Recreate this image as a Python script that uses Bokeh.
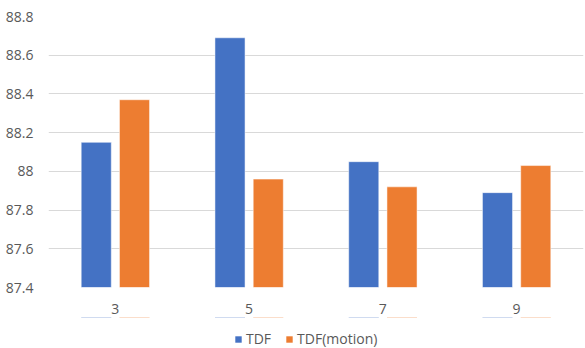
from bokeh.plotting import figure
from bokeh.layouts import column
from bokeh.models import ColumnDataSource, FactorRange, FixedTicker, Legend, LegendItem, Range1d
from bokeh.transform import dodge
from bokeh.embed import file_html
from bokeh.resources import INLINE

# Data
categories = ["3", "5", "7", "9"]
tdf = [88.15, 88.69, 88.05, 87.89]
tdf_motion = [88.37, 87.96, 87.92, 88.03]
y_ticks = [87.4, 87.6, 87.8, 88.0, 88.2, 88.4, 88.6, 88.8]
y_tick_labels = ["87.4", "87.6", "87.8", "88", "88.2", "88.4", "88.6", "88.8"]
series_names = ["TDF", "TDF(motion)"]

BASE = 87.4
BLUE = "#4472C4"
ORANGE = "#ED7D31"
TEXT = "#595959"
GRID = "#d9d9d9"
FONT = "Open Sans"

source = ColumnDataSource(dict(cat=categories, tdf=tdf, motion=tdf_motion))
x_range = FactorRange(*categories, range_padding=0)

# Main bar chart
p = figure(
    width=585, height=317,
    x_range=x_range,
    y_range=(87.4, 88.8),
    output_backend="svg", toolbar_location=None,
    min_border_left=48, min_border_right=2,
    min_border_top=16, min_border_bottom=30,
)
p.outline_line_color = None
p.background_fill_color = "white"
p.border_fill_color = "white"

bar_w = 0.225
p.vbar(x=dodge("cat", -0.143, range=x_range), top="tdf", bottom=BASE, width=bar_w,
       source=source, fill_color=BLUE, line_color="white", line_alpha=0.5, line_width=1)
p.vbar(x=dodge("cat", 0.143, range=x_range), top="motion", bottom=BASE, width=bar_w,
       source=source, fill_color=ORANGE, line_color="white", line_alpha=0.5, line_width=1)

p.yaxis.ticker = FixedTicker(ticks=y_ticks)
p.yaxis.major_label_overrides = dict(zip(y_ticks, y_tick_labels))
for ax in (p.xaxis, p.yaxis):
    ax.axis_line_color = None
    ax.major_tick_line_color = None
    ax.minor_tick_line_color = None
    ax.major_label_text_color = TEXT
    ax.major_label_text_font = FONT
    ax.major_label_text_font_size = "14px"
p.yaxis.major_label_standoff = 9
p.xaxis.major_label_standoff = 10

p.xgrid.grid_line_color = None
p.ygrid.grid_line_color = GRID
p.ygrid.grid_line_width = 1

# Legend strip under the chart; its swatch renderers sit outside the strip's
# visible y range so only the legend itself shows.
leg_fig = figure(
    width=585, height=31,
    x_range=x_range, y_range=Range1d(0, 1),
    x_axis_type=None, y_axis_type=None,
    output_backend="svg", toolbar_location=None,
    min_border=0,
)
leg_fig.outline_line_color = None
leg_fig.grid.visible = False
l1 = leg_fig.vbar(x=dodge("cat", -0.143, range=x_range), top="tdf", bottom=BASE,
                  width=bar_w, source=source, fill_color=BLUE, line_color=None)
l2 = leg_fig.vbar(x=dodge("cat", 0.143, range=x_range), top="motion", bottom=BASE,
                  width=bar_w, source=source, fill_color=ORANGE, line_color=None)

legend = Legend(
    items=[LegendItem(label=series_names[0], renderers=[l1]),
           LegendItem(label=series_names[1], renderers=[l2])],
    orientation="horizontal",
    location=(186, 0),
    border_line_color=None,
    background_fill_alpha=0,
    label_text_font=FONT,
    label_text_font_size="14px",
    label_text_color=TEXT,
    label_height=16,
    glyph_width=8, glyph_height=8,
    label_standoff=4,
    spacing=14,
    padding=0, margin=0,
)
leg_fig.add_layout(legend, "center")

layout = column(p, leg_fig, spacing=0)
open("out.html", "w").write(file_html(layout, INLINE))
